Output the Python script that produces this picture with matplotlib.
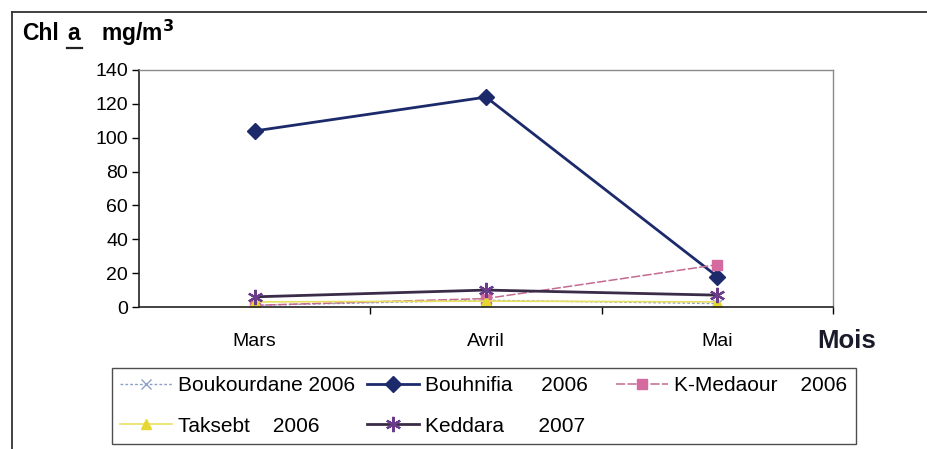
import matplotlib
matplotlib.use("Agg")
import matplotlib.pyplot as plt
from matplotlib.lines import Line2D

plt.rcParams['font.family'] = ['Liberation Sans', 'DejaVu Sans']

months = ["Mars", "Avril", "Mai"]
boukourdane = [1, 4, 2]
bouhnifia = [104, 124, 18]
k_medaour = [1, 5, 25]
taksebt = [3, 3.5, 3]
keddara = [6, 10, 7]

W, H = 928, 449
fig = plt.figure(figsize=(W / 100, H / 100), dpi=100)
L, R, T, B = 139, 833, 70, 307
ax = fig.add_axes([L / W, 1 - B / H, (R - L) / W, (B - T) / H])

x = list(range(len(months)))
l1, = ax.plot(x, boukourdane, color="#8fa0c8", lw=1, ls=(0, (2, 1.5)), marker="x", ms=7, mew=1)
l2, = ax.plot(x, bouhnifia, color="#1c2a6b", lw=2, marker="D", ms=8.5, mfc="#1c2a6b", mec="#1c2a6b")
l3, = ax.plot(x, k_medaour, color="#c46a90", lw=1.1, ls=(0, (6, 1.5)), marker="s", ms=7, mfc="#d46aa0", mec="#d46aa0")
l4, = ax.plot(x, taksebt, color="#e8e060", lw=1.2, marker="^", ms=7, mfc="#e6d830", mec="#e6d830")
l5, = ax.plot(x, keddara, color="#3a2c48", lw=2, marker=(6, 2, 0), ms=11, mew=1.6, mec="#6a3c8a")

ax.set_xlim(-0.5, 2.5)
ax.set_ylim(0, 140)
ax.set_yticks(range(0, 141, 20))
ax.set_xticks(x)
ax.set_xticklabels(months)
ax.set_xticks([0.5, 1.5, 2.5], minor=True)
ax.tick_params(axis="x", which="major", length=0, pad=19, labelsize=14)
ax.tick_params(axis="x", which="minor", length=5, direction="out", width=1)
ax.tick_params(axis="y", length=5, direction="out", width=1, labelsize=14, pad=3)
for s in ["left", "bottom"]:
    ax.spines[s].set_color("#222222")
    ax.spines[s].set_linewidth(1.2)
for s in ["top", "right"]:
    ax.spines[s].set_color("#8a8a8a")
    ax.spines[s].set_linewidth(1)

# axis titles
ty = 1 - 33 / H
fig.text(22 / W, ty, "Chl", fontsize=16.5, fontweight="bold", va="center", ha="left")
fig.text(67 / W, ty, "a", fontsize=16.5, fontweight="bold", va="center", ha="left")
fig.add_artist(Line2D([67 / W, 82 / W], [1 - 48 / H, 1 - 48 / H], color="#222222", lw=1.6))
fig.text(101 / W, ty, "mg/m$^{\\mathbf{3}}$", fontsize=16.5, fontweight="bold", va="center", ha="left")
fig.text(817 / W, 1 - 341 / H, "Mois", fontsize=18.5, fontweight="bold", va="center", ha="left", color="#1a1a2a")

# legend (row-major order via column-wise fill)
handles = [l1, l4, l2, l5, l3]
labels = ["Boukourdane 2006", "Taksebt    2006", "Bouhnifia     2006   ",
          "Keddara      2007", "K-Medaour    2006"]
leg = fig.legend(handles, labels, ncol=3, loc="upper left",
                 bbox_to_anchor=(112 / W, 1 - 368 / H), fontsize=15,
                 frameon=True, fancybox=False, edgecolor="#222222",
                 handlelength=2.5, handletextpad=0.28, columnspacing=0.55,
                 borderpad=0.4, labelspacing=1.02, borderaxespad=0)
leg.get_frame().set_linewidth(1)

# outer frame
fr = dict(color="#333333", lw=1.3)
fig.add_artist(Line2D([12 / W, 12 / W], [0, 1 - 12 / H], **fr))
fig.add_artist(Line2D([12 / W, 1], [1 - 12 / H, 1 - 12 / H], **fr))

fig.savefig("out.png", dpi=100)
